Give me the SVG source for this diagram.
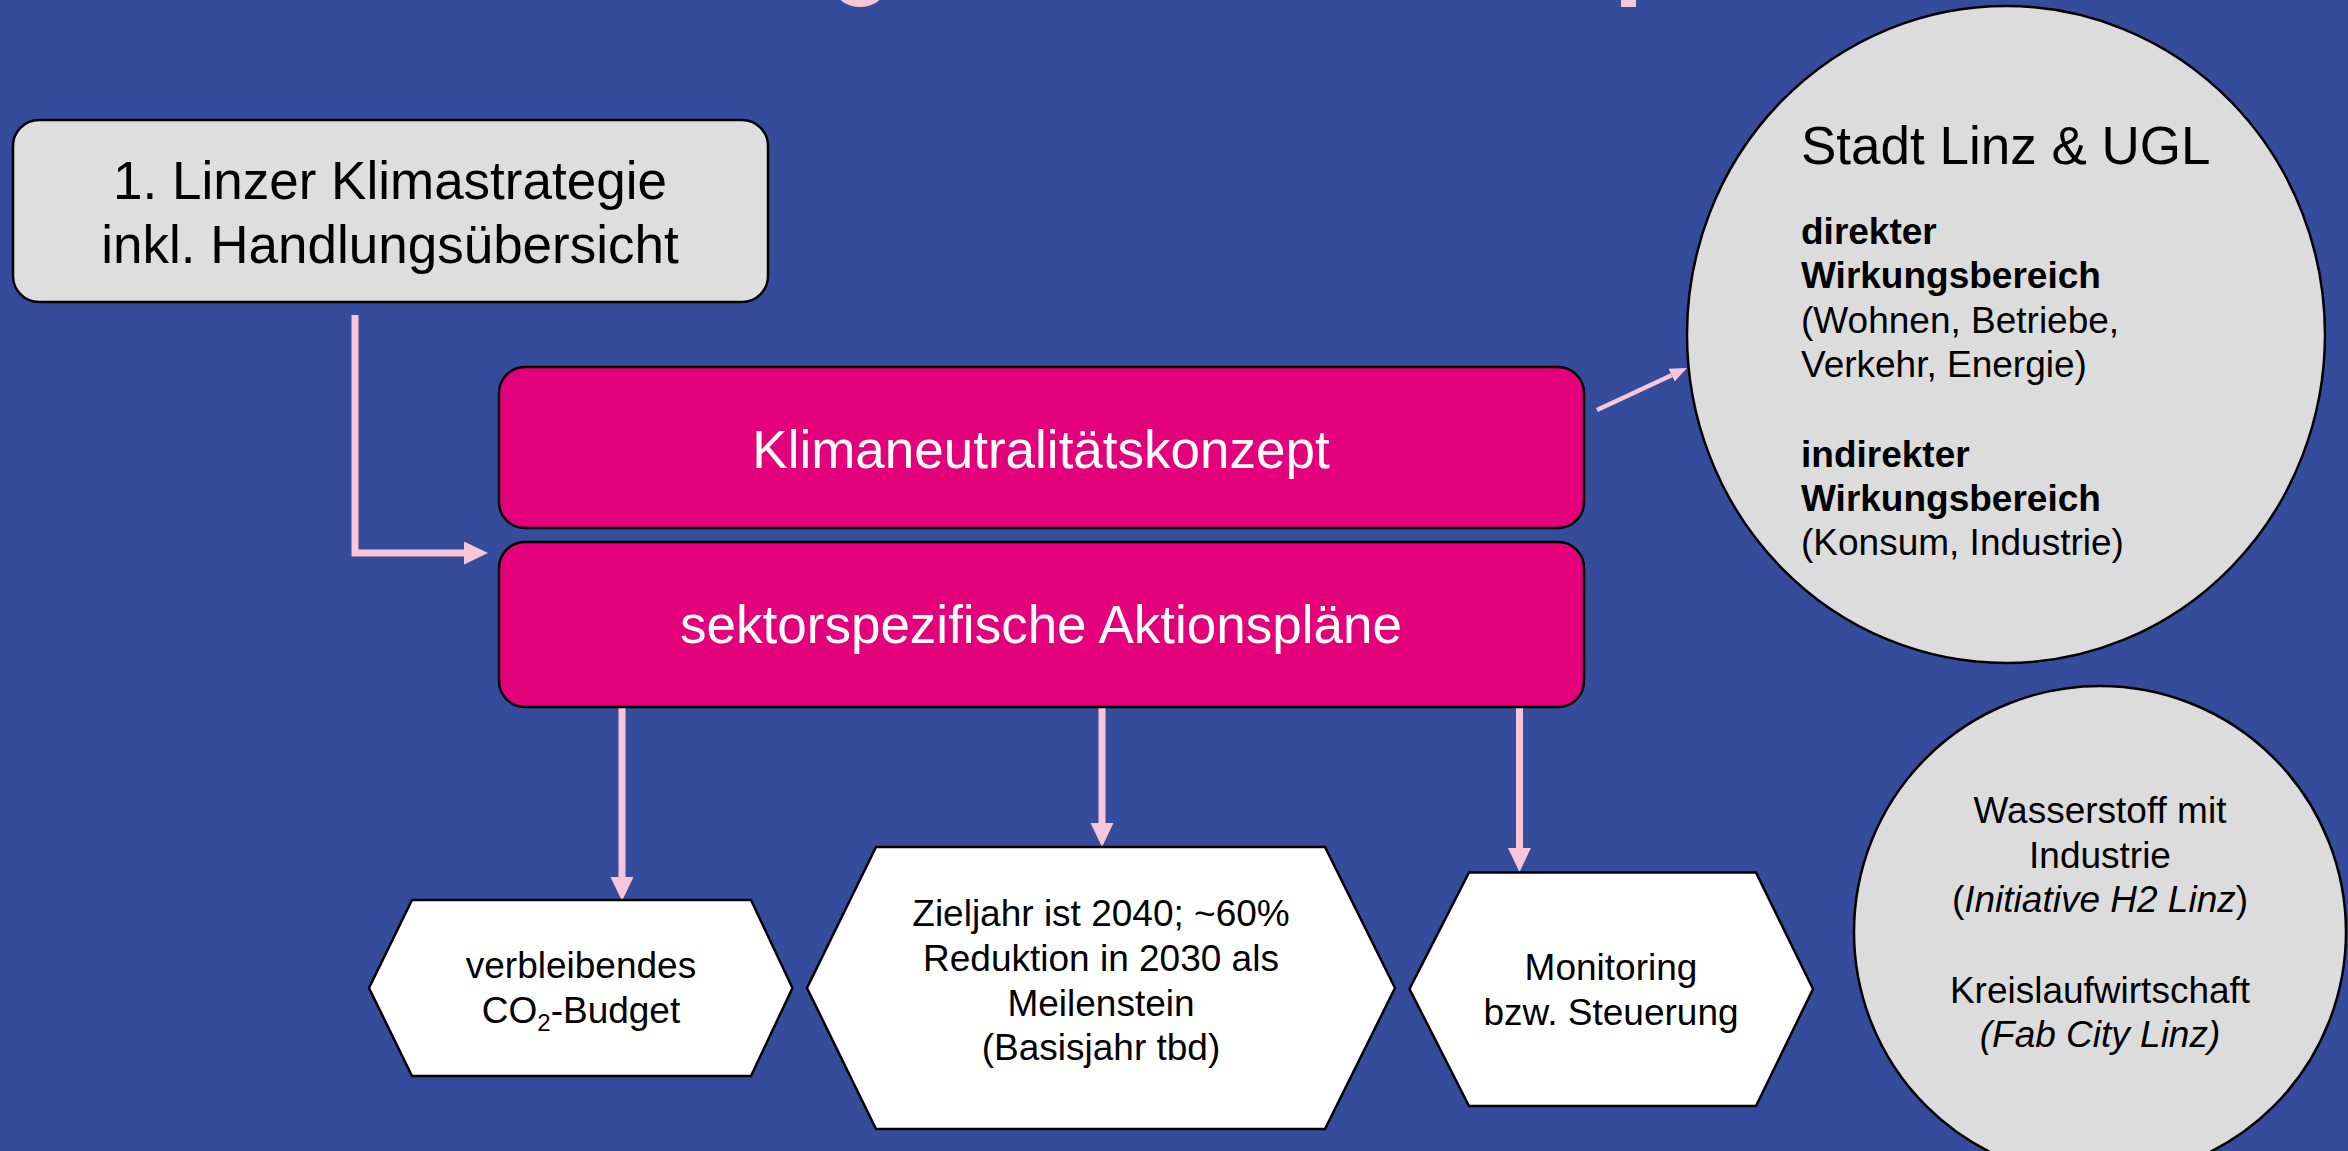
<svg xmlns="http://www.w3.org/2000/svg" width="2348" height="1151" viewBox="0 0 2348 1151">
<defs>
<style>
text{font-family:"Liberation Sans",Arial,sans-serif;fill:#000}
.box{fill:#DEDEDE;stroke:#000;stroke-width:2.5}
.pink{fill:#E4007A;stroke:#000;stroke-width:2.5}
.hex{fill:#FFFFFF;stroke:#000;stroke-width:2.5}
.circ{fill:#DCDCDC;stroke:#000;stroke-width:2.5}
.big{font-size:53px}
.mid{font-size:37px}
.wt{fill:#FFFFFF}
.conn{fill:none;stroke:#F8C6D8;stroke-width:7}
.thin{fill:none;stroke:#F8C6D8;stroke-width:4.5}
.frag{fill:#F8C6D8}
</style>
<marker id="ah" markerUnits="userSpaceOnUse" markerWidth="24" markerHeight="24" refX="0" refY="11.5" orient="auto">
<path d="M0,0 L24,11.5 L0,23 z" fill="#F8C6D8"/>
</marker>
<marker id="ahs" markerUnits="userSpaceOnUse" markerWidth="18" markerHeight="16" refX="0" refY="7" orient="auto">
<path d="M0,0 L17,7 L0,14 z" fill="#F8C6D8"/>
</marker>
</defs>
<rect x="0" y="0" width="2348" height="1151" fill="#344C9B"/>
<ellipse class="frag" cx="860" cy="-10" rx="24" ry="17"/>
<rect class="frag" x="1621" y="0" width="15" height="7"/>

<g id="connectors">
<path class="conn" d="M355,315 V553 H464" marker-end="url(#ah)"/>
<path class="conn" d="M622,706 V877" marker-end="url(#ah)"/>
<path class="conn" d="M1102,706 V823" marker-end="url(#ah)"/>
<path class="conn" d="M1519.5,706 V848" marker-end="url(#ah)"/>
<path class="thin" d="M1597,410 L1671.6,375.2" marker-end="url(#ahs)"/>
</g>

<g id="strategie">
<rect class="box" x="13" y="120" width="755" height="182" rx="26"/>
<text class="big" text-anchor="middle" x="390" y="199">1. Linzer Klimastrategie</text>
<text class="big" text-anchor="middle" x="390" y="263">inkl. Handlungsübersicht</text>
</g>

<g id="konzept">
<rect class="pink" x="499" y="367" width="1085" height="161" rx="26"/>
<text class="big wt" text-anchor="middle" x="1041" y="468">Klimaneutralitätskonzept</text>
</g>

<g id="aktionsplaene">
<rect class="pink" x="499" y="542" width="1085" height="165" rx="26"/>
<text class="big wt" text-anchor="middle" x="1041" y="643">sektorspezifische Aktionspläne</text>
</g>

<g id="stadt">
<ellipse class="circ" cx="2006" cy="334.5" rx="319" ry="328.5"/>
<text class="big" x="1801" y="164">Stadt Linz &amp; UGL</text>
<text class="mid" x="1801" y="244" font-weight="bold">direkter</text>
<text class="mid" x="1801" y="288" font-weight="bold">Wirkungsbereich</text>
<text class="mid" x="1801" y="333">(Wohnen, Betriebe,</text>
<text class="mid" x="1801" y="377">Verkehr, Energie)</text>
<text class="mid" x="1801" y="467" font-weight="bold">indirekter</text>
<text class="mid" x="1801" y="511" font-weight="bold">Wirkungsbereich</text>
<text class="mid" x="1801" y="555">(Konsum, Industrie)</text>
</g>

<g id="wasserstoff">
<circle class="circ" cx="2100" cy="932" r="246"/>
<text class="mid" text-anchor="middle" x="2100" y="823">Wasserstoff mit</text>
<text class="mid" text-anchor="middle" x="2100" y="868">Industrie</text>
<text class="mid" text-anchor="middle" x="2100" y="912">(<tspan font-style="italic">Initiative H2 Linz</tspan>)</text>
<text class="mid" text-anchor="middle" x="2100" y="1003">Kreislaufwirtschaft</text>
<text class="mid" text-anchor="middle" x="2100" y="1047" font-style="italic">(Fab City Linz)</text>
</g>

<g id="budget">
<polygon class="hex" points="412,900 751,900 792.5,988 751,1076 412,1076 369,988"/>
<text class="mid" text-anchor="middle" x="581" y="978">verbleibendes</text>
<text class="mid" text-anchor="middle" x="581" y="1023">CO<tspan font-size="24" dy="8">2</tspan><tspan dy="-8">-Budget</tspan></text>
</g>

<g id="zieljahr">
<polygon class="hex" points="876,847 1325,847 1395,988 1325,1129 876,1129 807,988"/>
<text class="mid" text-anchor="middle" x="1101" y="926">Zieljahr ist 2040; ~60%</text>
<text class="mid" text-anchor="middle" x="1101" y="971">Reduktion in 2030 als</text>
<text class="mid" text-anchor="middle" x="1101" y="1016">Meilenstein</text>
<text class="mid" text-anchor="middle" x="1101" y="1060">(Basisjahr tbd)</text>
</g>

<g id="monitoring">
<polygon class="hex" points="1469,872.5 1756,872.5 1813,989 1756,1106 1469,1106 1409.5,989"/>
<text class="mid" text-anchor="middle" x="1611" y="980">Monitoring</text>
<text class="mid" text-anchor="middle" x="1611" y="1025">bzw. Steuerung</text>
</g>
</svg>
